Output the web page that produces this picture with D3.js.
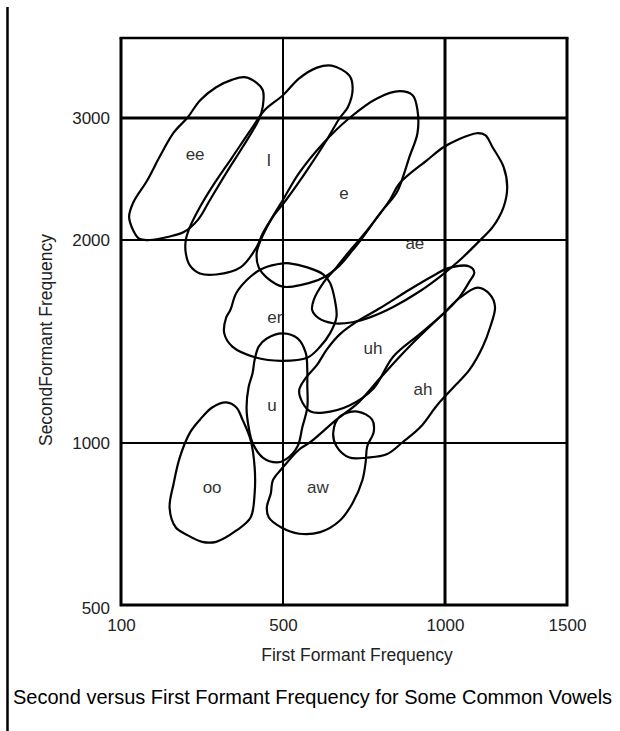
<!doctype html>
<html>

<head>
  <title>Vowel Formants</title>
  <style>
    body { margin: 0; background: #fff; }
    svg { display: block; }
    text { font-family: Arial, "Liberation Sans", sans-serif; }
  </style>
</head>

<body>
  <svg></svg>
  <script type="text/javascript" src="https://cdnjs.cloudflare.com/ajax/libs/d3/7.8.5/d3.min.js"></script>
  <script type="text/javascript">
  // tick values on the two (non uniform) frequency axes
  var xTickValues = [100, 500, 1000, 1500];
  var yTickValues = [500, 1000, 2000, 3000];
  var xGridValues = [500, 1000];
  var yGridValues = [1000, 2000, 3000];

  // vowel outlines, [first formant, second formant] in Hz
  var ee = [[405,3510],[435,3440],[450,3350],[450,3140],[440,2985],[400,2760],[360,2550],[320,2330],[290,2165],[255,2065],[215,2025],[170,2000],[145,2010],[130,2080],[120,2190],[130,2305],[165,2490],[195,2680],[230,2880],[265,3010],[295,3220],[335,3385],[375,3480]];
  var ih = [[650,3655],[705,3530],[715,3370],[700,3135],[675,3000],[635,2820],[575,2575],[510,2330],[475,2190],[450,2055],[435,1965],[395,1865],[335,1830],[295,1835],[270,1875],[260,1935],[260,2000],[270,2105],[295,2270],[325,2435],[375,2680],[425,2925],[455,3100],[500,3285],[550,3495],[605,3630]];
  var eh = [[860,3335],[900,3285],[915,3100],[915,2875],[890,2680],[870,2515],[850,2385],[800,2220],[740,2000],[715,1950],[675,1875],[625,1815],[560,1780],[500,1770],[460,1815],[440,1865],[435,1935],[445,2000],[470,2165],[500,2330],[550,2550],[625,2795],[705,3000],[790,3245]];
  var ae = [[1130,2875],[1165,2860],[1195,2760],[1240,2600],[1255,2435],[1240,2270],[1195,2105],[1145,2000],[1060,1900],[985,1820],[915,1740],[840,1670],[770,1620],[715,1595],[655,1590],[610,1615],[590,1655],[595,1705],[625,1790],[665,1865],[700,1935],[760,2080],[830,2330],[860,2465],[945,2655],[995,2760],[1050,2820]];
  var er = [[500,1885],[450,1860],[420,1820],[385,1740],[370,1655],[360,1620],[355,1540],[375,1475],[435,1420],[495,1405],[575,1420],[615,1475],[645,1540],[665,1620],[660,1705],[645,1790],[625,1830],[575,1865],[520,1885]];
  var uh = [[1010,1860],[1100,1870],[1120,1840],[1100,1795],[1060,1720],[1010,1655],[925,1540],[840,1425],[780,1270],[705,1185],[625,1150],[585,1155],[560,1200],[550,1260],[570,1320],[605,1385],[635,1460],[675,1535],[730,1600],[800,1665],[890,1755],[965,1825]];
  var u = [[500,1540],[545,1515],[570,1445],[575,1360],[575,1285],[575,1175],[560,1080],[545,990],[510,950],[485,940],[450,955],[425,1000],[415,1080],[410,1175],[415,1275],[425,1345],[430,1410],[440,1475],[460,1515]];
  var oo = [[360,1200],[385,1175],[400,1115],[420,1015],[430,925],[430,845],[420,770],[385,730],[335,695],[300,695],[265,715],[235,740],[220,800],[230,875],[245,955],[270,1050],[295,1115],[325,1175]];
  // ah and aw are one stroke in the original drawing (looped at the join)
  var ahAw = [[1135,1765],[1185,1730],[1205,1670],[1185,1570],[1155,1475],[1100,1360],[1035,1275],[975,1185],[925,1080],[870,1005],[820,965],[760,955],[705,955],[665,990],[655,1050],[675,1130],[730,1155],[775,1115],[780,1055],[760,990],[755,940],[745,885],[715,815],[675,760],[615,725],[550,720],[495,740],[465,770],[460,800],[470,845],[475,885],[500,925],[550,980],[585,1005],[665,1115],[730,1195],[800,1320],[890,1475],[1000,1645],[1060,1715]];

  var outlines = [ee, ih, eh, ae, er, uh, u, oo, ahAw];

  // vowel labels and where they sit (Hz)
  var labelNames = ["ee", "I", "e", "ae", "er", "uh", "ah", "u", "oo", "aw"];
  var labelF1 = [283, 465, 688, 907, 480, 778, 932, 473, 325, 608];
  var labelF2 = [2705, 2656, 2385, 1985, 1621, 1468, 1266, 1187, 864, 864];

  var width = 620,
      height = 731;

  var svg = d3.select("svg")
    .attr("width", width)
    .attr("height", height);

  // the original grid is hand spaced, so both scales are piecewise
  var x = d3.scaleLinear()
    .domain([100, 500, 1000, 1500])
    .range([121, 283, 445, 567]);

  var y = d3.scaleLinear()
    .domain([500, 1000, 2000, 3000, 4000])
    .range([605, 443, 240, 118, 38]);

  var x0 = x.range()[0], x1 = x.range()[3],
      y0 = y.range()[0], y1 = y.range()[4];

  // left border rule
  svg.append("line")
    .attr("x1", 7.5).attr("x2", 7.5)
    .attr("y1", 7).attr("y2", height)
    .style("stroke", "#000")
    .style("stroke-width", 2.5);

  // grid
  var grid = svg.append("g").attr("class", "grid");

  grid.selectAll("line.h")
    .data(yGridValues)
    .enter().append("line")
    .attr("class", "h")
    .attr("x1", x0).attr("x2", x1)
    .attr("y1", function(d) { return y(d); })
    .attr("y2", function(d) { return y(d); })
    .style("stroke", "#000")
    .style("stroke-width", function(d) { return d === 3000 ? 3 : 2; });

  grid.selectAll("line.v")
    .data(xGridValues)
    .enter().append("line")
    .attr("class", "v")
    .attr("y1", y0).attr("y2", y1)
    .attr("x1", function(d) { return x(d); })
    .attr("x2", function(d) { return x(d); })
    .style("stroke", "#000")
    .style("stroke-width", function(d) { return d === 1000 ? 3 : 2; });

  // frame: thin top, heavy other sides
  svg.append("line")
    .attr("x1", x0 - 1.5).attr("x2", x1 + 1.5)
    .attr("y1", y1).attr("y2", y1)
    .style("stroke", "#000").style("stroke-width", 2.3);
  svg.append("path")
    .attr("d", "M" + x0 + "," + y1 + "V" + y0 + "H" + x1 + "V" + y1)
    .style("fill", "none")
    .style("stroke", "#000")
    .style("stroke-width", 3);

  // axes (labels only)
  var xAxis = svg.append("g")
    .attr("transform", "translate(0," + y0 + ")")
    .call(d3.axisBottom(x).tickValues(xTickValues).tickSize(0).tickPadding(14).tickFormat(d3.format("d")));
  var yAxis = svg.append("g")
    .attr("transform", "translate(" + x0 + ",0)")
    .call(d3.axisLeft(y).tickValues(yTickValues).tickSize(0).tickPadding(11).tickFormat(d3.format("d")));

  [xAxis, yAxis].forEach(function(a) {
    a.select(".domain").remove();
    a.selectAll("text")
      .style("font-family", "Arial, 'Liberation Sans', sans-serif")
      .style("font-size", "17px")
      .style("fill", "#222");
  });
  yAxis.selectAll("text").filter(function(d) { return d === 500; }).attr("dy", "0.5em");

  // vowel outlines
  var line = d3.line()
    .x(function(d) { return x(d[0]); })
    .y(function(d) { return y(d[1]); })
    .curve(d3.curveCatmullRomClosed.alpha(0.5));

  svg.append("g")
    .attr("class", "vowels")
    .selectAll("path")
    .data(outlines)
    .enter().append("path")
    .attr("d", line)
    .style("fill", "none")
    .style("stroke", "#000")
    .style("stroke-width", 2.2)
    .style("stroke-linejoin", "round");

  svg.append("g")
    .attr("class", "labels")
    .selectAll("text")
    .data(labelNames)
    .enter().append("text")
    .attr("x", function(d, i) { return x(labelF1[i]); })
    .attr("y", function(d, i) { return y(labelF2[i]); })
    .attr("dy", "0.35em")
    .attr("text-anchor", "middle")
    .style("font-size", "17px")
    .style("fill", "#333")
    .text(function(d) { return d; });

  // axis titles and caption
  svg.append("text")
    .attr("x", 357)
    .attr("y", 661)
    .attr("text-anchor", "middle")
    .style("font-size", "17.5px")
    .style("fill", "#222")
    .text("First Formant Frequency");

  svg.append("text")
    .attr("transform", "translate(52,340) rotate(-90)")
    .attr("text-anchor", "middle")
    .style("font-size", "17.5px")
    .style("fill", "#222")
    .text("SecondFormant Frequency");

  svg.append("text")
    .attr("x", 13)
    .attr("y", 704)
    .style("font-size", "20px")
    .style("fill", "#000")
    .text("Second versus First Formant Frequency for Some Common Vowels");
  </script>
</body>

</html>
